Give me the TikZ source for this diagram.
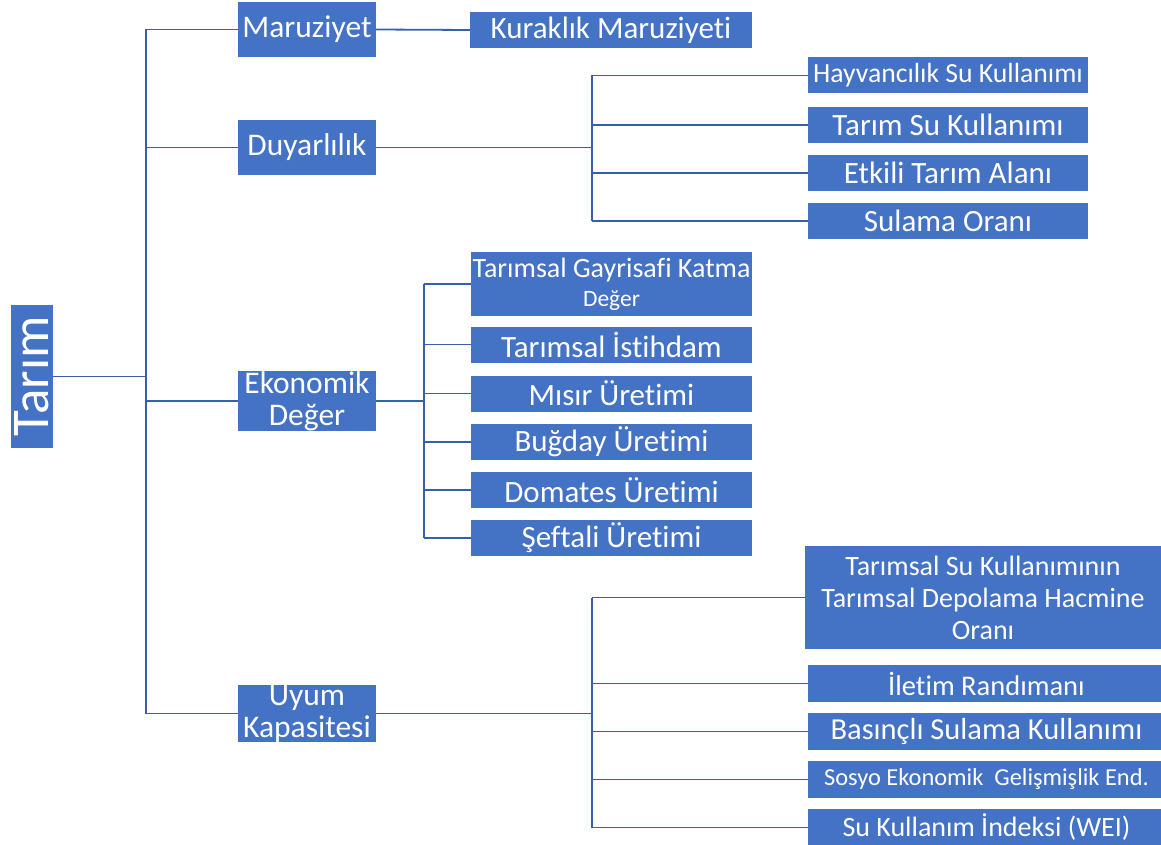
\documentclass[tikz,border=0pt]{standalone}
\usepackage{fontspec}
\setmainfont{Carlito}[Ligatures={NoCommon}]
\definecolor{boxblue}{HTML}{4472C4}
\definecolor{linkblue}{HTML}{3660AE}
\tikzset{x=1pt,y=-1pt}
\tikzset{
  box/.style={fill=boxblue, text=white, inner sep=0pt, align=center},
  rootbox/.style={box, rotate=90, minimum width=143, minimum height=42,
    font=\fontsize{53}{60}\selectfont},
  mainbox/.style={box, minimum width=138, minimum height=55,
    font=\fontsize{31.5}{32}\selectfont},
  leafbox/.style={box, minimum width=281, minimum height=36,
    font=\fontsize{31}{32}\selectfont},
  sz/.style={font=\fontsize{#1}{32}\selectfont},
  link/.style={draw=linkblue, line width=1.8pt},
}

\begin{document}
\begin{tikzpicture}
\useasboundingbox (0,0) rectangle (1161,845);
% root and first level
\node[rootbox] (tarim) at (32,376.5) {Tarım};
\node[mainbox] (maruz) at (307,29.5) {Maruziyet};
\node[mainbox] (duyar) at (307,147.5) {Duyarlılık};
\node[mainbox, minimum height=56] (ekon) at (307,401) {Ekonomik\\Değer};
\node[mainbox] (uyum) at (307,713.5) {Uyum\\Kapasitesi};
% leaves
\node[leafbox, minimum width=282] (kurak) at (611,30) {Kuraklık Maruziyeti};
%
\node[leafbox, minimum width=280, sz=27.7] (hayv) at (948,75.5) {Hayvancılık Su Kullanımı};
\node[leafbox, minimum width=280] (tarimsu) at (948,125) {Tarım Su Kullanımı};
\node[leafbox, minimum width=280] (etkili) at (948,173) {Etkili Tarım Alanı};
\node[leafbox, minimum width=280] (sulama) at (948,221) {Sulama Oranı};
%
\node[leafbox, minimum height=64, sz=28] (gayri) at (611.5,284)
  {Tarımsal Gayrisafi Katma\\[-3pt]{\fontsize{23.5}{24}\selectfont Değer}};
\node[leafbox] (istih) at (611.5,344.5) {Tarımsal İstihdam};
\node[leafbox] (misir) at (611.5,393.5) {Mısır Üretimi};
\node[leafbox] (bugday) at (611.5,442) {Buğday Üretimi};
\node[leafbox] (domates) at (611.5,490) {Domates Üretimi};
\node[leafbox] (seftali) at (611.5,538) {Şeftali Üretimi};
%
\node[leafbox, minimum width=356, minimum height=103, sz=28] (oran) at (983,597.5)
  {Tarımsal Su Kullanımının\\Tarımsal Depolama Hacmine\\Oranı};
\node[leafbox, minimum width=357, minimum height=37, sz=28.5] (iletim) at (986.5,683.5) {İletim Randımanı};
\node[leafbox, minimum width=357, minimum height=37, sz=30.5] (basinc) at (986.5,731.5) {Basınçlı Sulama Kullanımı};
\node[leafbox, minimum width=357, minimum height=37, sz=24.4] (sosyo) at (986.5,779.5) {Sosyo Ekonomik\ \ Gelişmişlik End.};
\node[leafbox, minimum width=357, minimum height=37, sz=28] (wei) at (986.5,827.5) {Su Kullanım İndeksi (WEI)};

% bracket positions
\coordinate (t) at (146,0);
\coordinate (bd) at (592,0);
\coordinate (be) at (424,0);
\coordinate (bu) at (592,0);

% connectors
\draw[link] (tarim.south) -- (tarim.south -| t);
\draw[link] (maruz.west -| t) -- (uyum.west -| t);
\foreach \n in {maruz,duyar,ekon,uyum}
  \draw[link] (\n.west) -- (\n.west -| t);
\draw[link] (maruz.east) -- (kurak.west);
%
\draw[link] (duyar.east) -- (duyar.east -| bd);
\draw[link] (hayv.west -| bd) -- (sulama.west -| bd);
\foreach \n in {hayv,tarimsu,etkili,sulama}
  \draw[link] (\n.west) -- (\n.west -| bd);
%
\draw[link] (ekon.east) -- (ekon.east -| be);
\draw[link] (gayri.west -| be) -- (seftali.west -| be);
\foreach \n in {gayri,istih,misir,bugday,domates,seftali}
  \draw[link] (\n.west) -- (\n.west -| be);
%
\draw[link] (uyum.east) -- (uyum.east -| bu);
\draw[link] (oran.west -| bu) -- (wei.west -| bu);
\foreach \n in {oran,iletim,basinc,sosyo,wei}
  \draw[link] (\n.west) -- (\n.west -| bu);
\end{tikzpicture}
\end{document}
